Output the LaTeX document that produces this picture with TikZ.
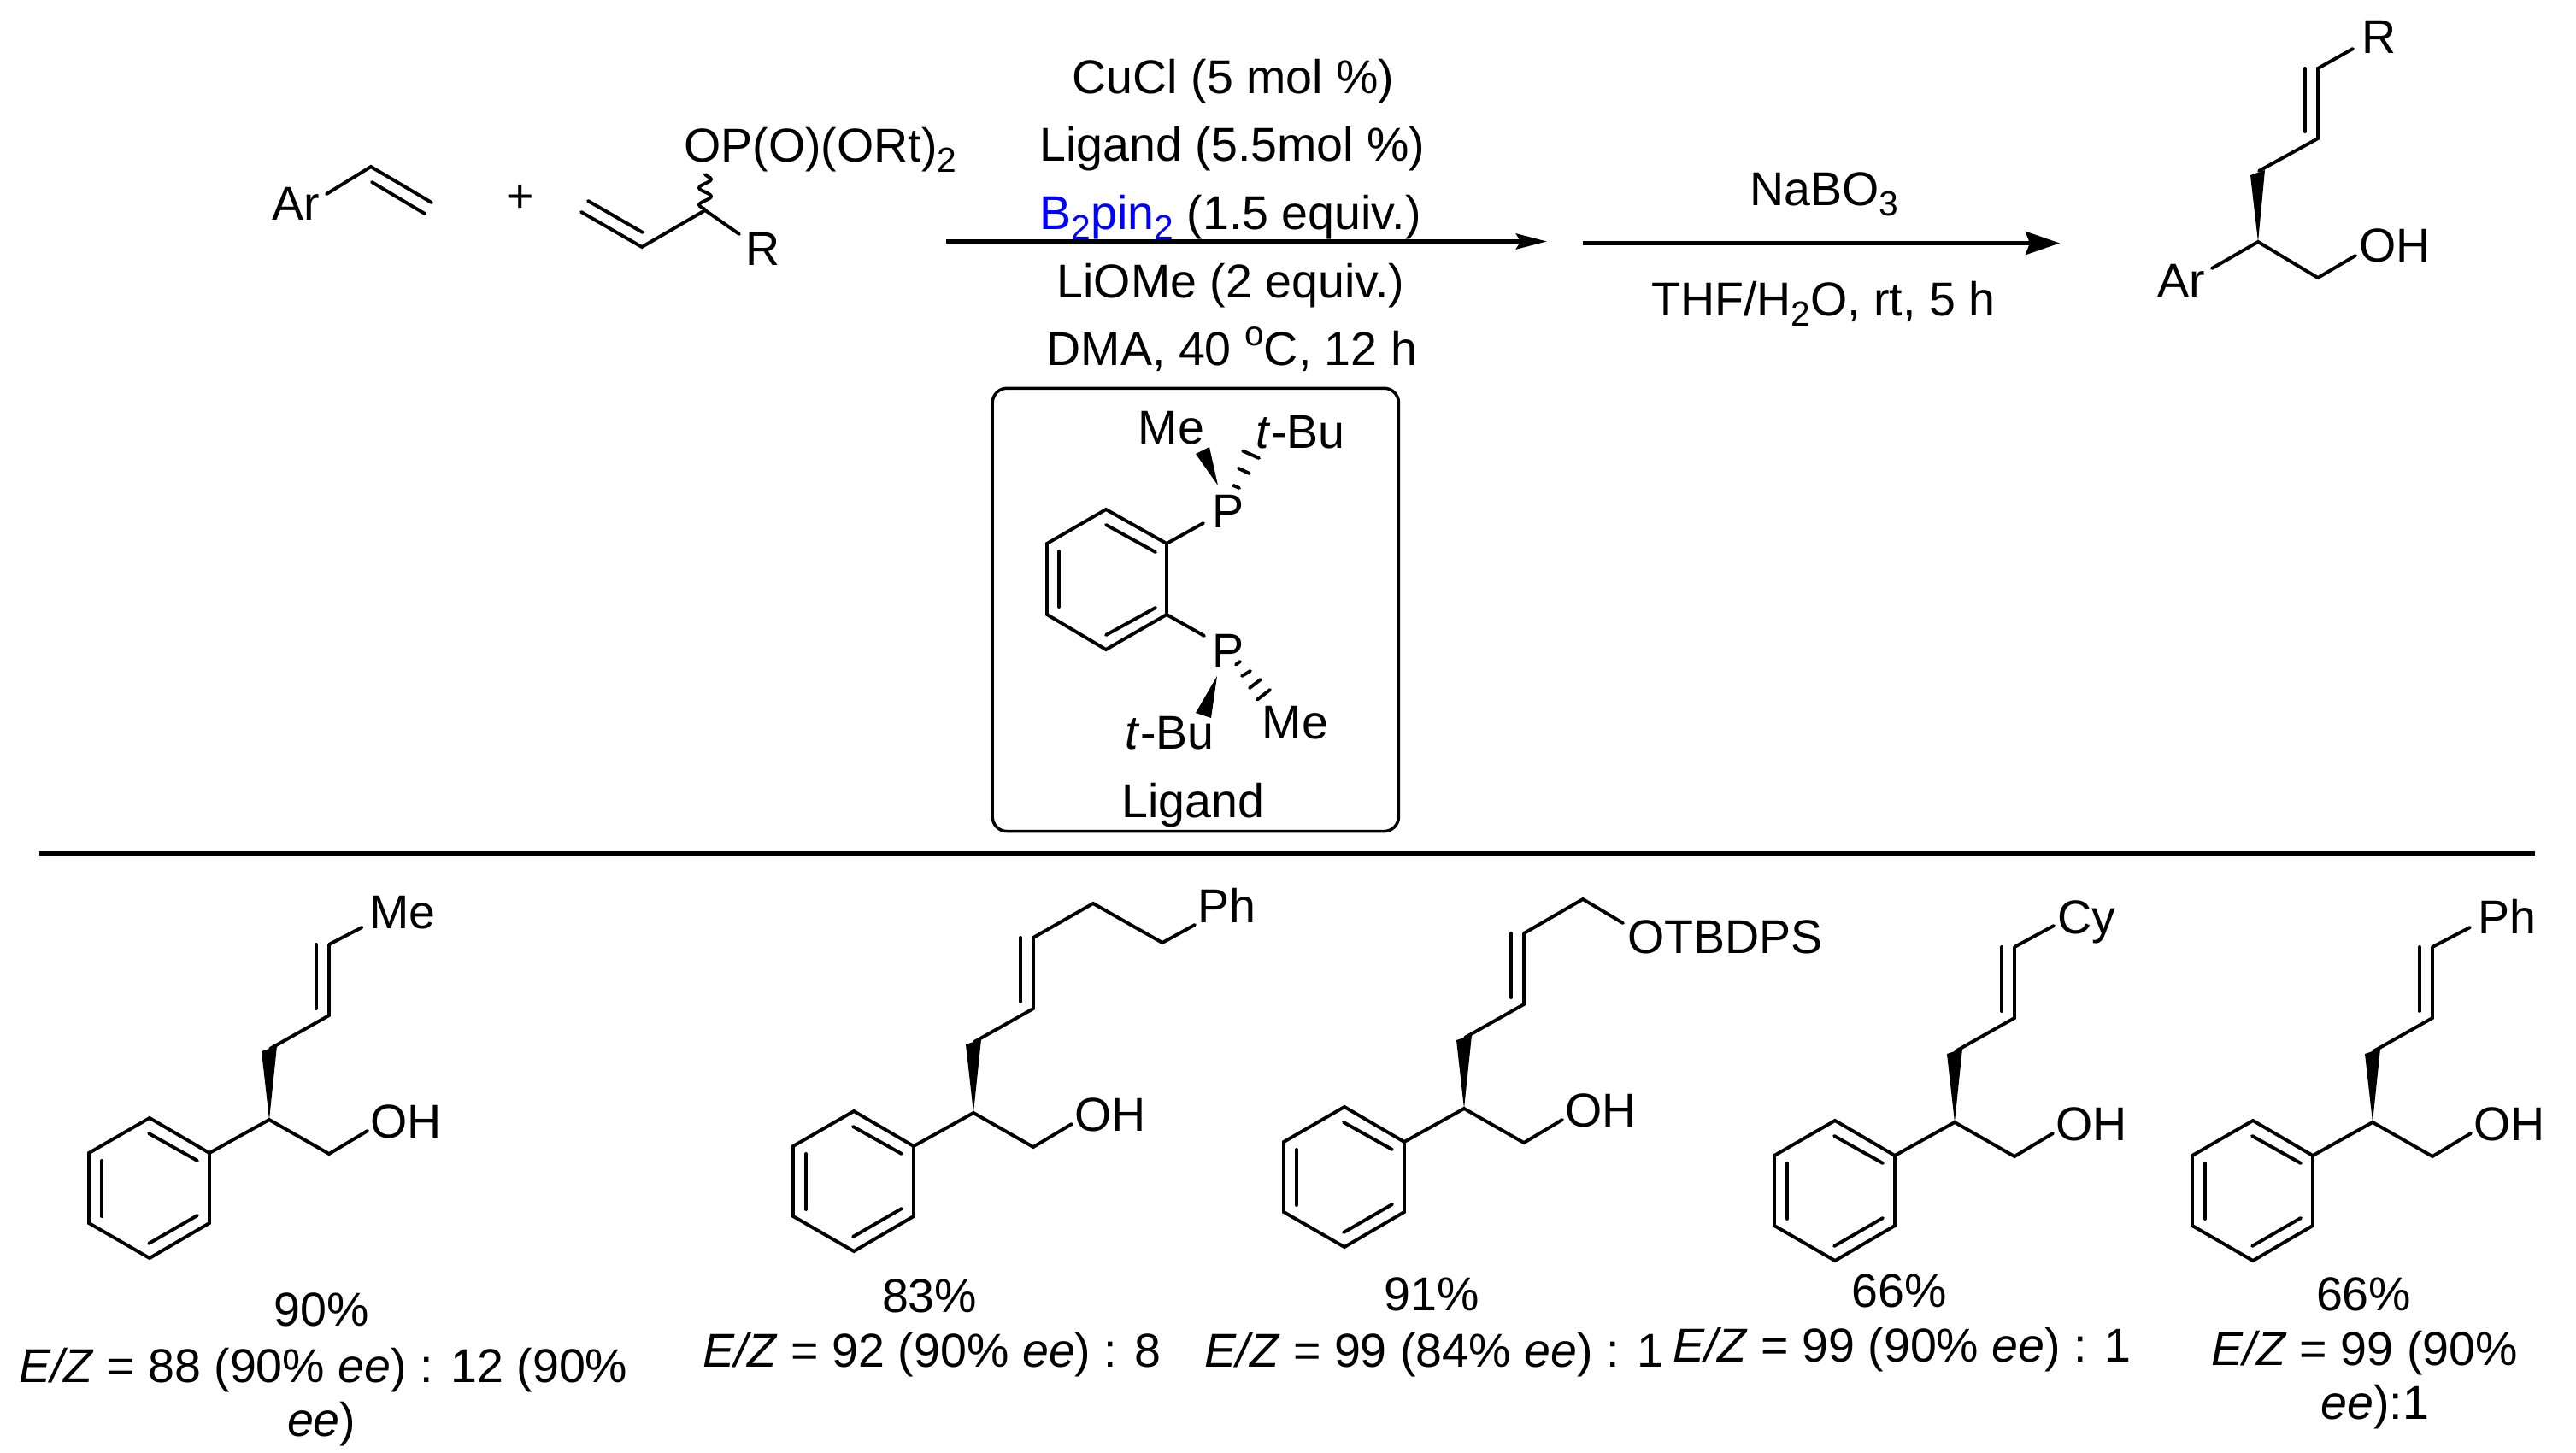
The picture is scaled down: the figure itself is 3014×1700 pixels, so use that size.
\documentclass[tikz,border=0pt]{standalone}
\usepackage{fontspec}
\setmainfont{Liberation Sans}
\usetikzlibrary{arrows.meta,decorations.pathmorphing}
\definecolor{borblue}{RGB}{0,0,255}
\newcommand{\sbs}[1]{\raisebox{-0.12cm}{\fontsize{11.6pt}{11.6pt}\selectfont #1}}
\newcommand{\spo}[1]{\raisebox{0.23cm}{\fontsize{11.6pt}{11.6pt}\selectfont #1}}
\newcommand{\alkenol}[3]{
    \begin{scope}[shift={(#2,#3)}]
    \coordinate (#1c) at (0,0);
    \coordinate (#1v) at (70,-205);
    \draw [bond] (-140,-2) -- (-70,39) -- (-70,121) -- (-140,162) -- (-211,121) -- (-211,39) -- cycle;
    \draw [bond] (-141,16) -- (-84,48);
    \draw [bond] (-141,145) -- (-84,112);
    \draw [bond] (-196,48) -- (-196,113);
    \draw [bond] (-70,39) -- (#1c) -- (70,40) -- (115,13);
    \fill (#1c) -- (-9,-80) -- (9,-86) -- cycle;
    \draw [bond] (1,-83) -- (70,-122) -- (#1v);
    \draw [bond] (55,-130) -- (55,-205);
    \node [txt, xshift=1.185cm, yshift=-0.21cm] (#1oh) {OH};
    \end{scope}
}
\begin{document}
\begin{tikzpicture}[x=0.01cm,y=-0.01cm]
    \tikzstyle{txt} = [anchor=base west,inner sep=0pt,outer sep=0pt,font=\fontsize{15.8pt}{18pt}\selectfont]
    \tikzstyle{mid} = [txt,anchor=base]
    \tikzstyle{bond} = [line width=1.12pt,line cap=round]
    \tikzstyle{rec} = [rectangle,rounded corners=0.17cm,draw,line width=1pt,minimum width=4.75cm,minimum height=5.18cm,inner sep=0pt]
    \useasboundingbox (0,0) rectangle (3014,1700);

    \node [txt, xshift=3.18cm, yshift=-2.57cm] (ar) {Ar};
    \coordinate (ara) at (382,227);
    \coordinate (arb) at (434,195);
    \coordinate (arc) at (505,237);
    \draw [bond] (ara) -- (arb) -- (arc);
    \draw [bond] (435,213) -- (497,250);
    \node [mid, xshift=6.08cm, yshift=-2.48cm] (plus) {+};

    \coordinate (ala) at (680,248);
    \coordinate (alb) at (751,289);
    \coordinate (alc) at (825,246);
    \coordinate (ald) at (865,274);
    \coordinate (ale) at (825,203);
    \draw [bond] (ala) -- (alb) -- (alc) -- (ald);
    \draw [bond] (688,235) -- (752,272);
    \draw [line width=1.1pt, decorate, decoration={snake,segment length=0.2cm,amplitude=0.07cm}] (alc) -- (ale);
    \node [txt, xshift=8.00cm, yshift=-1.89cm] (op) {OP(O)(ORt)\sbs{2}};
    \node [txt, xshift=8.72cm, yshift=-3.10cm] (rone) {R};

    \node [txt, xshift=12.54cm, yshift=-1.09cm] (cucl) {CuCl (5 mol \%)};
    \node [txt, xshift=12.16cm, yshift=-1.88cm] (lig) {Ligand (5.5mol \%)};
    \node [txt, xshift=12.16cm, yshift=-2.68cm] (bpin) {\textcolor{borblue}{B\sbs{2}pin\sbs{2}} (1.5 equiv.)};
    \node [txt, xshift=12.36cm, yshift=-3.48cm] (liome) {LiOMe (2 equiv.)};
    \node [txt, xshift=12.24cm, yshift=-4.27cm] (dma) {DMA, 40 \spo{o}C, 12 h};
    \coordinate (aone) at (1107,282.5);
    \coordinate (bone) at (1810,282.5);
    \draw [line width=1.4pt, -{Stealth[length=0.36cm,width=0.18cm,inset=0.05cm]}] (aone) -- (bone);

    \node [txt, xshift=20.46cm, yshift=-2.40cm] (nabo) {NaBO\sbs{3}};
    \node [txt, xshift=19.31cm, yshift=-3.69cm] (thf) {THF/H\sbs{2}O, rt, 5 h};
    \coordinate (atwo) at (1852,284.5);
    \coordinate (btwo) at (2410,284.5);
    \draw [line width=1.4pt, -{Stealth[length=0.40cm,width=0.27cm,inset=0.05cm]}] (atwo) -- (btwo);

    \node [txt, xshift=27.62cm, yshift=-0.62cm] (rtwo) {R};
    \node [txt, xshift=27.59cm, yshift=-3.06cm] (ohtop) {OH};
    \node [txt, xshift=25.23cm, yshift=-3.47cm] (artwo) {Ar};
    \coordinate (pa) at (2753,57);
    \coordinate (pb) at (2712,80);
    \coordinate (pc) at (2712,162);
    \coordinate (pd) at (2643,200);
    \coordinate (pe) at (2642,283);
    \coordinate (pf) at (2712,325);
    \coordinate (pg) at (2756,299);
    \coordinate (ph) at (2588,314);
    \draw [bond] (pa) -- (pb) -- (pc) -- (pd);
    \draw [bond] (2697,80) -- (2697,154);
    \fill (pe) -- (2633,205) -- (2650,199) -- cycle;
    \draw [bond] (ph) -- (pe) -- (pf) -- (pg);

    \node [rec, xshift=13.98cm, yshift=-7.13cm] (ligbox) {};
    \draw [bond] (1294,596) -- (1365,636) -- (1365,719) -- (1294,760) -- (1225,719) -- (1225,636) -- cycle;
    \draw [bond] (1294,614) -- (1352,646);
    \draw [bond] (1294,743) -- (1352,711);
    \draw [bond] (1239,645) -- (1239,710);
    \node [txt, xshift=14.18cm, yshift=-6.17cm] (pup) {P};
    \node [txt, xshift=14.18cm, yshift=-7.80cm] (plow) {P};
    \coordinate (pua) at (1408,612);
    \coordinate (pla) at (1409,744);
    \draw [bond] (1365,636) -- (pua);
    \draw [bond] (1365,719) -- (pla);
    \node [txt, xshift=13.31cm, yshift=-5.19cm] (meup) {Me};
    \node [txt, xshift=14.69cm, yshift=-5.24cm] (buup) {\textit{t}-Bu};
    \node [txt, xshift=14.76cm, yshift=-8.64cm] (melow) {Me};
    \node [txt, xshift=13.16cm, yshift=-8.76cm] (bulow) {\textit{t}-Bu};
    \node [txt, xshift=13.12cm, yshift=-9.56cm] (ligname) {Ligand};
    \fill (1425,568) -- (1399,531) -- (1415,523) -- cycle;
    \fill (1424,791) -- (1399,834) -- (1417,840) -- cycle;
    \draw [bond] (1443,568) -- (1450,571);
    \draw [bond] (1449,548) -- (1462,554);
    \draw [bond] (1454,527.5) -- (1473,536);
    \draw [bond] (1446,777.5) -- (1451,774);
    \draw [bond] (1453,791) -- (1463,785);
    \draw [bond] (1462,805) -- (1475,795);
    \draw [bond] (1471,818.6) -- (1486,807);

    \coordinate (rulea) at (46,998.5);
    \coordinate (ruleb) at (2966,998.5);
    \draw [line width=1.2pt] (rulea) -- (ruleb);

    \alkenol{one}{315}{1310}
    \coordinate (onee) at (423.5,1085);
    \draw [bond] (onev) -- (onee);
    \node [txt, xshift=4.32cm, yshift=-10.86cm] (meone) {Me};
    \node [mid, xshift=3.76cm, yshift=-15.51cm] (yone) {90\%};
    \node [txt, xshift=0.22cm, yshift=-16.17cm] (ezone) {\textit{E/Z} = 88 (90\% \textit{ee}) : 12 (90\%};
    \node [mid, xshift=3.76cm, yshift=-16.80cm] (eeone) {\textit{ee})};

    \alkenol{two}{1139}{1302}
    \coordinate (twoe) at (1279,1057);
    \coordinate (twof) at (1360,1103);
    \coordinate (twog) at (1398,1082);
    \draw [bond] (twov) -- (twoe) -- (twof) -- (twog);
    \node [txt, xshift=14.01cm, yshift=-10.79cm] (phtwo) {Ph};
    \node [mid, xshift=10.87cm, yshift=-15.35cm] (ytwo) {83\%};
    \node [txt, xshift=8.22cm, yshift=-15.99cm] (eztwo) {\textit{E/Z} = 92 (90\% \textit{ee}) : 8};

    \alkenol{three}{1713}{1297}
    \coordinate (threee) at (1852,1052);
    \coordinate (threef) at (1899,1080);
    \draw [bond] (threev) -- (threee) -- (threef);
    \node [txt, xshift=19.03cm, yshift=-11.15cm] (otb) {OTBDPS};
    \node [mid, xshift=16.74cm, yshift=-15.33cm] (ythree) {91\%};
    \node [txt, xshift=14.09cm, yshift=-15.99cm] (ezthree) {\textit{E/Z} = 99 (84\% \textit{ee}) : 1};

    \alkenol{four}{2287}{1313}
    \coordinate (foure) at (2403,1083);
    \draw [bond] (fourv) -- (foure);
    \node [txt, xshift=24.06cm, yshift=-10.92cm] (cy) {Cy};
    \node [mid, xshift=22.21cm, yshift=-15.29cm] (yfour) {66\%};
    \node [txt, xshift=19.56cm, yshift=-15.93cm] (ezfour) {\textit{E/Z} = 99 (90\% \textit{ee}) : 1};

    \alkenol{five}{2776}{1313}
    \coordinate (fivee) at (2890,1085);
    \draw [bond] (fivev) -- (fivee);
    \node [txt, xshift=28.98cm, yshift=-10.92cm] (phfive) {Ph};
    \node [mid, xshift=27.64cm, yshift=-15.33cm] (yfive) {66\%};
    \node [txt, xshift=25.86cm, yshift=-15.97cm] (ezfive) {\textit{E/Z} = 99 (90\%};
    \node [mid, xshift=27.77cm, yshift=-16.60cm] (eefive) {\textit{ee}):1};
\end{tikzpicture}
\end{document}
